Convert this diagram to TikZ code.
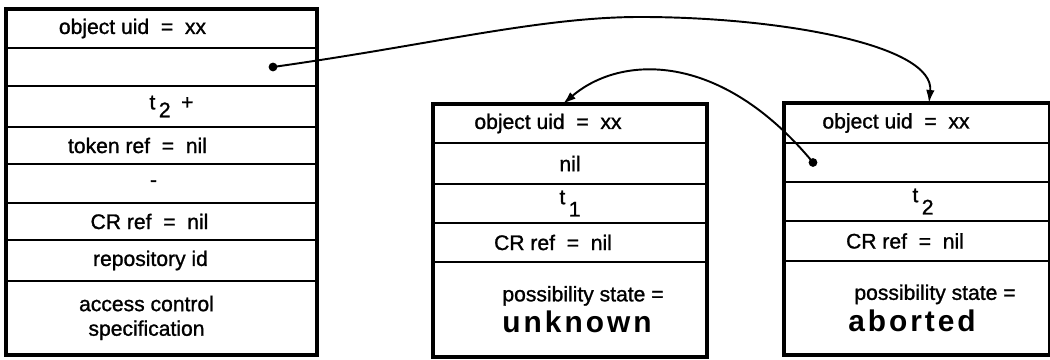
\documentclass[tikz,border=0pt]{standalone}
\usepackage{fontspec}
\setmainfont[FakeBold=1.2]{Liberation Sans}
\newfontfamily\widefont[LetterSpace=10]{Liberation Sans}
\usetikzlibrary{arrows.meta,positioning}

\begin{document}
\begin{tikzpicture}[every node/.style={font=\fontsize{12}{14}\selectfont}, >={Latex[length=2.6mm,width=1.7mm]},
	cell/.style={draw, line width=0.8pt, inner sep=0pt, outer sep=0pt, align=center},
	lcell/.style={cell, minimum width=6.22cm},
	mcell/.style={cell, minimum width=5.48cm},
	rcell/.style={cell, minimum width=5.32cm},
	frame/.style={draw, line width=1.8pt},
	dot/.style={circle, fill, inner sep=0pt, minimum size=5pt},
	link/.style={->, line width=1.1pt}]
	\useasboundingbox (0,0) rectangle (21,7.2);
	% object header
	\node[lcell, minimum height=0.78cm, anchor=north] (hdr1) at (3.23,7.02) {object uid ~=~ xx\hspace*{1.16cm}};
	\node[lcell, minimum height=0.76cm, below=0pt of hdr1] (hdr2) {};
	\node[lcell, minimum height=0.82cm, below=0pt of hdr2] (hdr3) {\hspace*{0.4cm}t\,\raisebox{-4.5pt}{2}\enspace+};
	\node[lcell, minimum height=0.74cm, below=0pt of hdr3] (hdr4) {token ref ~=~ nil\hspace*{0.96cm}};
	\node[lcell, minimum height=0.78cm, below=0pt of hdr4] (hdr5) {\raisebox{-3pt}{-}\hspace*{0.32cm}};
	\node[lcell, minimum height=0.74cm, below=0pt of hdr5] (hdr6) {CR ref ~=~ nil\hspace*{0.48cm}};
	\node[lcell, minimum height=0.82cm, below=0pt of hdr6] (hdr7) {repository id\hspace*{0.44cm}};
	\node[lcell, minimum height=1.48cm, below=0pt of hdr7] (hdr8) {access control\hspace*{0.6cm}\\specification\hspace*{0.6cm}};
	\draw[frame] (hdr1.north west) rectangle (hdr8.south east);
	\draw[frame, line width=1.4pt] (hdr6.south west) -- (hdr6.south east);
	% possibility: unknown
	\node[mcell, minimum height=0.78cm, anchor=north] (pu1) at (11.40,5.12) {object uid ~=~ xx\hspace*{0.88cm}};
	\node[mcell, minimum height=0.82cm, below=0pt of pu1] (pu2) {nil};
	\node[mcell, minimum height=0.78cm, below=0pt of pu2] (pu3) {t\,\raisebox{-7pt}{1}};
	\node[mcell, minimum height=0.78cm, below=0pt of pu3] (pu4) {CR ref ~=~ nil\hspace*{0.68cm}};
	\node[mcell, minimum height=1.90cm, below=0pt of pu4] (pu5) {\hspace*{0.52cm}possibility state =\\[2pt]\hspace*{0.28cm}{\widefont\fontsize{17}{20}\selectfont\bfseries unknown}};
	\draw[frame] (pu1.north west) rectangle (pu5.south east);
	% possibility: aborted
	\node[rcell, minimum height=0.80cm, anchor=north] (pa1) at (18.34,5.14) {object uid ~=~ xx\hspace*{0.84cm}};
	\node[rcell, minimum height=0.78cm, below=0pt of pa1] (pa2) {};
	\node[rcell, minimum height=0.78cm, below=0pt of pa2] (pa3) {\hspace*{0.24cm}t\,\raisebox{-7pt}{2}};
	\node[rcell, minimum height=0.80cm, below=0pt of pa3] (pa4) {CR ref ~=~ nil\hspace*{0.48cm}};
	\node[rcell, minimum height=1.88cm, below=0pt of pa4] (pa5) {\hspace*{0.72cm}possibility state =\\[2pt]{\widefont\fontsize{17}{20}\selectfont\bfseries aborted}\hspace*{0.2cm}};
	\draw[frame] (pa1.north west) rectangle (pa5.south east);
	% pointers
	\node[dot] (src1) at ([xshift=2.23cm]hdr2.center) {};
	\node[dot] (src2) at ([xshift=-2.08cm]pa2.center) {};
	\draw[link] (src1.center) .. controls (8.60,6.30) and (10.80,6.86) .. (12.80,6.86)
		.. controls (15.60,6.86) and (18.70,6.30) .. ([xshift=0.24cm]pa1.north);
	\draw[link] (src2.center) .. controls (14.40,6.20) and (12.40,6.10) .. ([xshift=-0.14cm]pu1.north);
\end{tikzpicture}
\end{document}
